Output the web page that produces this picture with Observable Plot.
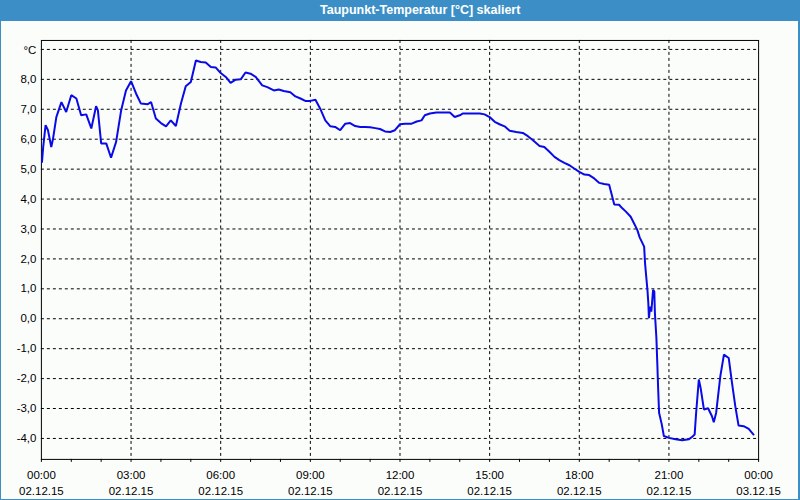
<!DOCTYPE html>
<html>
<head>
<meta charset="utf-8">
<script src="https://cdn.jsdelivr.net/npm/d3@7"></script>
<script src="https://cdn.jsdelivr.net/npm/@observablehq/plot@0.6"></script>
<style>
  html, body { margin: 0; padding: 0; background: #fbfdfb; }
  #win { position: relative; width: 800px; height: 500px; box-sizing: border-box; overflow: hidden;
         border-left: 1px solid #3c8fc6; border-right: 2px solid #3c8fc6; border-bottom: 1px solid #3c8fc6; background: #fbfdfb; }
  #title { position: absolute; left: -1px; top: 0; width: 800px; height: 21px; background: #3c8fc6; color: #fff;
           font: bold 12.5px "Liberation Sans", Arial, sans-serif; line-height: 20px; }
  #title span { position: absolute; left: 320px; white-space: nowrap; }
  #chart { position: absolute; left: -1px; top: 20px; }
</style>
</head>
<body>
<div id="win">
  <div id="title"><span>Taupunkt-Temperatur [°C] skaliert</span></div>
  <div id="chart"></div>
</div>
<script>
const titleText = "Taupunkt-Temperatur [°C] skaliert";
const unitLabel = "°C";
// hours since 02.12.15 00:00
const hours = [0.02,0.06,0.14,0.22,0.33,0.39,0.5,0.67,0.83,1.0,1.17,1.33,1.5,1.67,1.83,1.89,2.0,2.17,2.33,2.5,2.67,2.83,3.0,3.17,3.33,3.56,3.67,3.83,4.0,4.17,4.33,4.5,4.67,4.83,5.0,5.17,5.33,5.5,5.67,5.83,6.0,6.17,6.33,6.5,6.67,6.83,7.0,7.17,7.39,7.56,7.78,7.94,8.11,8.33,8.5,8.67,8.83,9.0,9.17,9.33,9.5,9.67,9.83,10.0,10.17,10.33,10.5,10.67,10.83,11.0,11.17,11.33,11.5,11.67,11.83,12.0,12.17,12.39,12.56,12.72,12.83,13.0,13.22,13.44,13.67,13.83,14.0,14.11,14.33,14.67,14.83,15.0,15.17,15.33,15.5,15.67,15.89,16.11,16.28,16.44,16.67,16.83,17.0,17.17,17.33,17.5,17.67,17.83,18.0,18.17,18.33,18.5,18.67,18.83,19.0,19.06,19.17,19.33,19.44,19.56,19.72,19.83,19.94,20.02,20.17,20.2,20.24,20.28,20.31,20.33,20.37,20.41,20.47,20.51,20.53,20.58,20.61,20.64,20.67,20.76,20.83,21.0,21.22,21.44,21.67,21.78,21.86,21.91,22.0,22.06,22.17,22.31,22.44,22.5,22.58,22.72,22.84,23.0,23.11,23.22,23.33,23.5,23.67,23.83];
const dewpoint = [5.24,5.74,6.47,6.3,5.74,6.02,6.74,7.24,6.91,7.47,7.36,6.8,6.83,6.36,7.1,6.97,5.86,5.86,5.38,5.91,6.97,7.63,7.94,7.52,7.19,7.17,7.24,6.69,6.54,6.43,6.63,6.44,7.19,7.77,7.91,8.63,8.58,8.56,8.41,8.4,8.21,8.08,7.88,7.99,8.0,8.23,8.19,8.08,7.8,7.74,7.63,7.66,7.61,7.57,7.43,7.36,7.28,7.28,7.32,7.02,6.63,6.43,6.41,6.3,6.52,6.54,6.44,6.41,6.41,6.4,6.37,6.34,6.26,6.24,6.3,6.5,6.52,6.52,6.59,6.63,6.8,6.86,6.89,6.89,6.89,6.74,6.8,6.86,6.86,6.86,6.83,6.74,6.58,6.5,6.43,6.28,6.24,6.21,6.1,5.97,5.77,5.74,5.58,5.41,5.3,5.21,5.13,5.02,4.91,4.82,4.8,4.69,4.54,4.5,4.48,4.24,3.82,3.81,3.69,3.58,3.41,3.19,2.97,2.72,2.41,1.86,1.41,0.97,0.52,0.02,0.41,0.24,0.97,0.91,0.19,-0.64,-1.48,-2.37,-3.14,-3.53,-3.92,-3.98,-4.03,-4.06,-4.03,-3.94,-3.87,-3.14,-2.03,-2.31,-3.03,-2.99,-3.26,-3.46,-3.14,-1.92,-1.2,-1.31,-2.14,-2.92,-3.57,-3.59,-3.68,-3.87];
const yTicks = [-4,-3,-2,-1,0,1,2,3,4,5,6,7,8];
const yGrid = [-4,-3,-2,-1,0,1,2,3,4,5,6,7,8,9];
const xMajor = [0,3,6,9,12,15,18,21,24];
const xTimeLabels = ["00:00","03:00","06:00","09:00","12:00","15:00","18:00","21:00","00:00"];
const xDateLabels = ["02.12.15","02.12.15","02.12.15","02.12.15","02.12.15","02.12.15","02.12.15","02.12.15","03.12.15"];
const xMinor = d3.range(0, 25, 1);

document.querySelector("#title span").textContent = titleText;

const data = hours.map((h, i) => ({h, v: dewpoint[i]}));
const fmt = d => d.toFixed(1).replace(".", ",");

const chart = Plot.plot({
  width: 800,
  height: 480,
  marginLeft: 41,
  marginRight: 40,
  marginTop: 20,
  marginBottom: 40,
  style: {fontFamily: "'Liberation Sans', Arial, sans-serif", fontSize: "11.5px", background: "transparent", color: "#000"},
  x: {domain: [0, 24]},
  y: {domain: [-4.7, 9.3]},
  marks: [
    Plot.gridX(xMajor.slice(1, -1), {stroke: "#000", strokeOpacity: 1, strokeDasharray: "3,3"}),
    Plot.gridY(yGrid, {stroke: "#000", strokeOpacity: 1, strokeDasharray: "3,3"}),
    Plot.axisY(yTicks, {tickSize: 0, tickPadding: 5, tickFormat: fmt, label: null, fill: "#000"}),
    Plot.text([unitLabel], {frameAnchor: "top-left", dx: -5, dy: 5, textAnchor: "end", fill: "#000"}),
    Plot.axisX(xMinor, {tickSize: 3, tickFormat: () => "", label: null, stroke: "#000"}),
    Plot.axisX(xMajor, {tickSize: 0, tickPadding: 8, lineHeight: 1.4,
      tickFormat: (d, i) => xTimeLabels[xMajor.indexOf(d)] + "\n" + xDateLabels[xMajor.indexOf(d)], label: null, fill: "#000"}),
    Plot.frame({stroke: "#000"}),
    Plot.line(data, {x: "h", y: "v", stroke: "#0a0ae6", strokeWidth: 2, strokeLinejoin: "miter"})
  ]
});
document.getElementById("chart").appendChild(chart);
</script>
</body>
</html>
